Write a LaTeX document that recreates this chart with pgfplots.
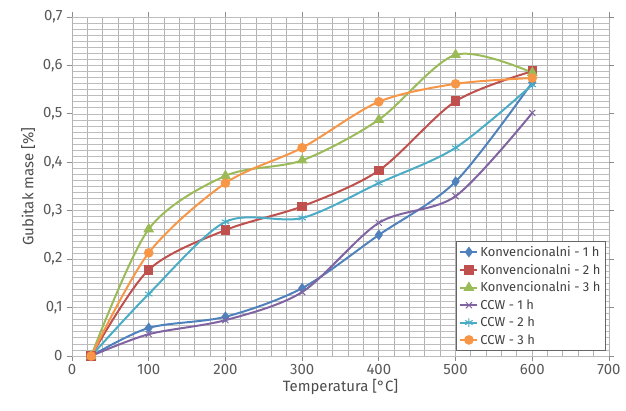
\documentclass[border=0pt]{standalone}
\usepackage{fontspec}
\setmainfont{Fira Sans}
\usepackage{pgfplots}
\pgfplotsset{compat=1.18}
\definecolor{cA}{HTML}{4F81BD}
\definecolor{cB}{HTML}{C0504D}
\definecolor{cC}{HTML}{9BBB59}
\definecolor{cD}{HTML}{8064A2}
\definecolor{cE}{HTML}{4BACC6}
\definecolor{cF}{HTML}{F79646}
\definecolor{txt}{HTML}{595959}
\begin{document}
\begin{tikzpicture}
\begin{axis}[
  scale only axis, width=537bp, height=339bp,
  xmin=0, xmax=700, ymin=0, ymax=0.7,
  xtick={0,20,...,700}, xticklabels={},
  ytick={0,0.0125,...,0.7}, yticklabels={},
  major tick length=0pt,
  xmajorgrids, ymajorgrids,
  x grid style={draw=black!30, line width=1pt},
  y grid style={draw=black!26, line width=0.7pt},
  extra x ticks={0,100,200,300,400,500,600,700},
  extra y ticks={0,0.1,0.2,0.3,0.4,0.5,0.6,0.7},
  extra tick style={major tick length=5bp, grid style={draw=black!42, line width=1pt},
    tick style={draw=black!45, line width=0.8pt}},
  axis line style={draw=black!45, line width=0.8pt},
  tick align=outside,
  /pgf/number format/assume math mode=true,
  /pgf/number format/use comma, /pgf/number format/fixed, /pgf/number format/precision=1,
  ticklabel style={font=\fontsize{15}{17}\selectfont, text=txt},
  yticklabel style={xshift=-1bp},
  xlabel={Temperatura [°C]}, ylabel={Gubitak mase [\%]},
  label style={font=\fontsize{15}{17}\selectfont, text=black!70},
  xlabel style={yshift=2bp}, ylabel style={yshift=1bp},
  legend cell align=left,
  legend style={at={(0.994,0.015)}, anchor=south east, draw=black!60, line width=0.8pt, fill=white,
    font=\fontsize{13}{15}\selectfont, text=black!75, row sep=2.2bp, inner sep=3bp},
  every axis plot/.append style={smooth, tension=0.5, line width=2pt},
]
\addplot[cA, mark=diamond*, mark size=3.8pt, mark options={solid, fill=cA}] coordinates {(25,0) (100,0.058) (200,0.081) (300,0.14) (400,0.25) (500,0.36) (600,0.565)};
\addlegendentry{Konvencionalni - 1 h}
\addplot[cB, mark=square*, mark size=3.8pt, mark options={solid, fill=cB}] coordinates {(25,0) (100,0.178) (200,0.26) (300,0.309) (400,0.383) (500,0.526) (600,0.588)};
\addlegendentry{Konvencionalni - 2 h}
\addplot[cC, mark=triangle*, mark size=4.3pt, mark options={solid, fill=cC}] coordinates {(25,0) (100,0.262) (200,0.372) (300,0.404) (400,0.488) (500,0.622) (600,0.585)};
\addlegendentry{Konvencionalni - 3 h}
\addplot[cD, mark=x, mark size=4.3pt, mark options={solid, line width=1pt}] coordinates {(25,0) (100,0.045) (200,0.074) (300,0.132) (400,0.275) (500,0.33) (600,0.502)};
\addlegendentry{CCW - 1 h}
\addplot[cE, mark=asterisk, mark size=4.3pt, mark options={solid, line width=1pt}] coordinates {(25,0) (100,0.128) (200,0.277) (300,0.285) (400,0.357) (500,0.43) (600,0.56)};
\addlegendentry{CCW - 2 h}
\addplot[cF, mark=*, mark size=3.8pt, mark options={solid, fill=cF}] coordinates {(25,0) (100,0.213) (200,0.357) (300,0.43) (400,0.525) (500,0.562) (600,0.574)};
\addlegendentry{CCW - 3 h}
\end{axis}
\pgfresetboundingbox
\path[use as bounding box] ([shift={(-72bp,-55bp)}]current axis.south west) rectangle ([shift={(17bp,17bp)}]current axis.north east);
\end{tikzpicture}
\end{document}
